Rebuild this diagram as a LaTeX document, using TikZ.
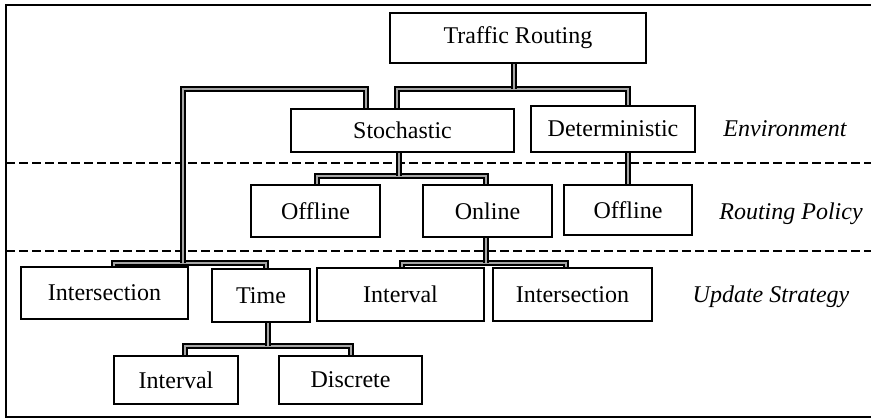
\documentclass[tikz,border=0pt]{standalone}
\usepackage{fontspec}
\setmainfont{Liberation Serif}
\usetikzlibrary{positioning}
\tikzset{mybox/.style={draw, line width=1.2pt, inner sep=0pt, font=\fontsize{12}{14}\selectfont}}
\tikzset{mylabel/.style={inner sep=0pt, font=\fontsize{12}{14}\selectfont\itshape}}
\tikzset{myconn/.style={line width=0.8pt, double=gray!70, double distance=1.1pt}}
\tikzset{mysep/.style={line width=1pt, dash pattern=on 4.5pt off 2pt}}
\begin{document}
\begin{tikzpicture}[x=0.5pt, y=-0.5pt]

\useasboundingbox (0,0) rectangle (871,419);

% frame and layer separators
\draw[line width=1.2pt] (872,5) -- (6,5) -- (6,417) -- (872,417);
\draw[mysep] (6,163) -- (871,163);
\draw[mysep] (6,251) -- (871,251);

\node[mybox, minimum width=128pt, minimum height=25pt] (traffic) at (518,38) {Traffic Routing};

\node[mybox, minimum width=111.5pt, minimum height=21.5pt] (stoch) at (402.5,130.5) {Stochastic};
\node[mybox, minimum width=82pt, minimum height=23pt] (determ) at (613,129) {Deterministic};

\node[mybox, minimum width=64.5pt, minimum height=26pt] (offl1) at (315.5,211) {Offline};
\node[mybox, minimum width=64.5pt, minimum height=26pt] (online) at (487.5,211) {Online};
\node[mybox, minimum width=64pt, minimum height=25pt] (offl2) at (628,210) {Offline};

\node[mybox, minimum width=83.5pt, minimum height=26pt] (isect1) at (104.5,293) {Intersection};
\node[mybox, minimum width=49pt, minimum height=26.5pt] (time) at (261,295.5) {Time};
\node[mybox, minimum width=83.5pt, minimum height=26.5pt] (intv1) at (400.5,294.5) {Interval};
\node[mybox, minimum width=79.5pt, minimum height=26.5pt] (isect2) at (572.5,294.5) {Intersection};

\node[mybox, minimum width=62pt, minimum height=24pt] (intv2) at (176,380) {Interval};
\node[mybox, minimum width=71.5pt, minimum height=24pt] (discr) at (350.5,380) {Discrete};

\node[mylabel] (envLbl) at (785,129) {Environment};
\node[mylabel] (polLbl) at (791,214) {Routing Policy};
\node[mylabel] (updLbl) at (771,297) {Update Strategy};

% bus points
\coordinate (trM) at (514,89);
\coordinate (trL) at (397,89);
\coordinate (trR) at (628,89);
\coordinate (skL) at (183,89);
\coordinate (skR) at (366,89);
\coordinate (upL) at (114,263);
\coordinate (upR) at (266,263);
\coordinate (stM) at (399,176);
\coordinate (polL) at (317,176);
\coordinate (polR) at (486,176);
\coordinate (dtM) at (628,170);
\coordinate (onM) at (486,263);
\coordinate (onL) at (402,263);
\coordinate (onR) at (566,263);
\coordinate (tmM) at (268,346);
\coordinate (tmL) at (185,346);
\coordinate (tmR) at (351,346);

\draw[myconn] (trL |- stoch.north) -- (trL) -- (trR) -- (trR |- determ.north);
\draw[myconn] (trM |- traffic.south) -- (trM);

\draw[myconn] (upL |- isect1.north) -- (upL) -- (upR) -- (upR |- time.north);
\draw[myconn] (skR |- stoch.north) -- (skR) -- (skL) -- (skL |- upL);

\draw[myconn] (polL |- offl1.north) -- (polL) -- (polR) -- (polR |- online.north);
\draw[myconn] (stM |- stoch.south) -- (stM);

\draw[myconn] (dtM |- determ.south) -- (dtM |- offl2.north);

\draw[myconn] (onL |- intv1.north) -- (onL) -- (onR) -- (onR |- isect2.north);
\draw[myconn] (onM |- online.south) -- (onM);

\draw[myconn] (tmL |- intv2.north) -- (tmL) -- (tmR) -- (tmR |- discr.north);
\draw[myconn] (tmM |- time.south) -- (tmM);

\end{tikzpicture}
\end{document}
